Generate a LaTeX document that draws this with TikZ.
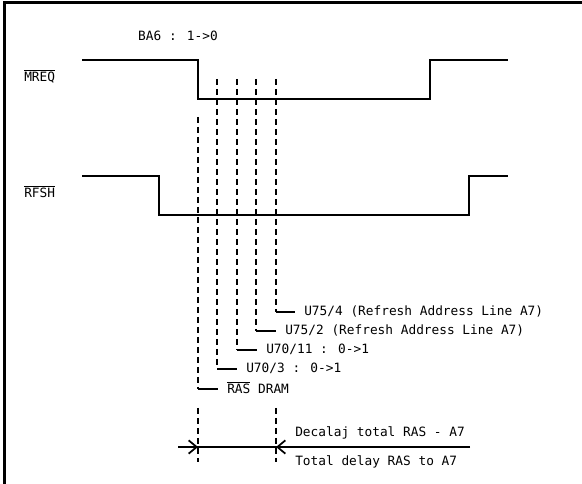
\documentclass[tikz,border=0pt]{standalone}
\usepackage{fontspec}
\setmainfont{DejaVu Sans Mono}
\usetikzlibrary{arrows.meta}
\tikzset{
  sig/.style={line width=1.5pt},
  guide/.style={line width=1.2pt, dash pattern=on 4.5pt off 3pt},
  tick/.style={line width=1.5pt},
  lbl/.style={inner sep=0pt, anchor=west, font=\fontsize{9.6pt}{11pt}\selectfont},
  dim/.style={line width=1.5pt},
}
\begin{document}
\begin{tikzpicture}[x=0.75pt,y=-0.75pt]
\useasboundingbox (0,0) rectangle (582,484);
% frame
\draw[line width=1.6pt] (4.5,484) -- (4.5,2.5) -- (582,2.5);
% labels
\node[lbl] (mreq) at (24,76) {$\overline{\mbox{MREQ}}$};
\node[lbl] (rfsh) at (24,192) {$\overline{\mbox{RFSH}}$};
\node[lbl, anchor=center] (ba6) at (178,36) {BA6 : 1->0};
% signals
\draw[sig] (82,60) -- (198,60) -- (198,99) -- (430,99) -- (430,60) -- (508,60);
\draw[sig] (82,176) -- (159,176) -- (159,215) -- (469,215) -- (469,176) -- (508,176);
% guides
\coordinate (g1t) at (198,117); \coordinate (g1b) at (198,389);
\coordinate (g2t) at (217,79);  \coordinate (g2b) at (217,369);
\coordinate (g3t) at (237,79);  \coordinate (g3b) at (237,350);
\coordinate (g4t) at (256,79);  \coordinate (g4b) at (256,331);
\coordinate (g5t) at (276,79);  \coordinate (g5b) at (276,312);
\draw[guide] (g1t) -- (g1b);
\draw[guide] (g2t) -- (g2b);
\draw[guide] (g3t) -- (g3b);
\draw[guide] (g4t) -- (g4b);
\draw[guide] (g5t) -- (g5b);
% ticks and texts
\node[lbl] (t5) at (304,311) {U75/4 (Refresh Address Line A7)};
\node[lbl] (t4) at (285,330) {U75/2 (Refresh Address Line A7)};
\node[lbl] (t3) at (266,349) {U70/11 : 0->1};
\node[lbl] (t2) at (246,368) {U70/3 : 0->1};
\node[lbl] (t1) at (227,388) {$\overline{\mbox{RAS}}$ DRAM};
\draw[tick] (g5b) -- ++(19,0);
\draw[tick] (g4b) -- ++(20,0);
\draw[tick] (g3b) -- ++(20,0);
\draw[tick] (g2b) -- ++(20,0);
\draw[tick] (g1b) -- ++(20,0);
% dimension
\coordinate (d1t) at (198,408); \coordinate (d1b) at (198,462);
\coordinate (d2t) at (276,408); \coordinate (d2b) at (276,462);
\draw[guide] (d1t) -- (d1b);
\draw[guide] (d2t) -- (d2b);
\coordinate (dl) at (178,447); \coordinate (dr) at (470,447);
\coordinate (a1) at (198,447); \coordinate (a2) at (276,447);
\draw[dim] (dl) -- (dr);
\draw[dim, -{Straight Barb[length=6pt,width=10pt,line width=1.3pt]}] (dl) -- (a1);
\draw[dim, -{Straight Barb[length=6pt,width=10pt,line width=1.3pt]}] (dr) -- (a2);
\node[lbl] (dt1) at (295,433) {Decalaj total RAS - A7};
\node[lbl] (dt2) at (295,462) {Total delay RAS to A7};
\end{tikzpicture}
\end{document}
